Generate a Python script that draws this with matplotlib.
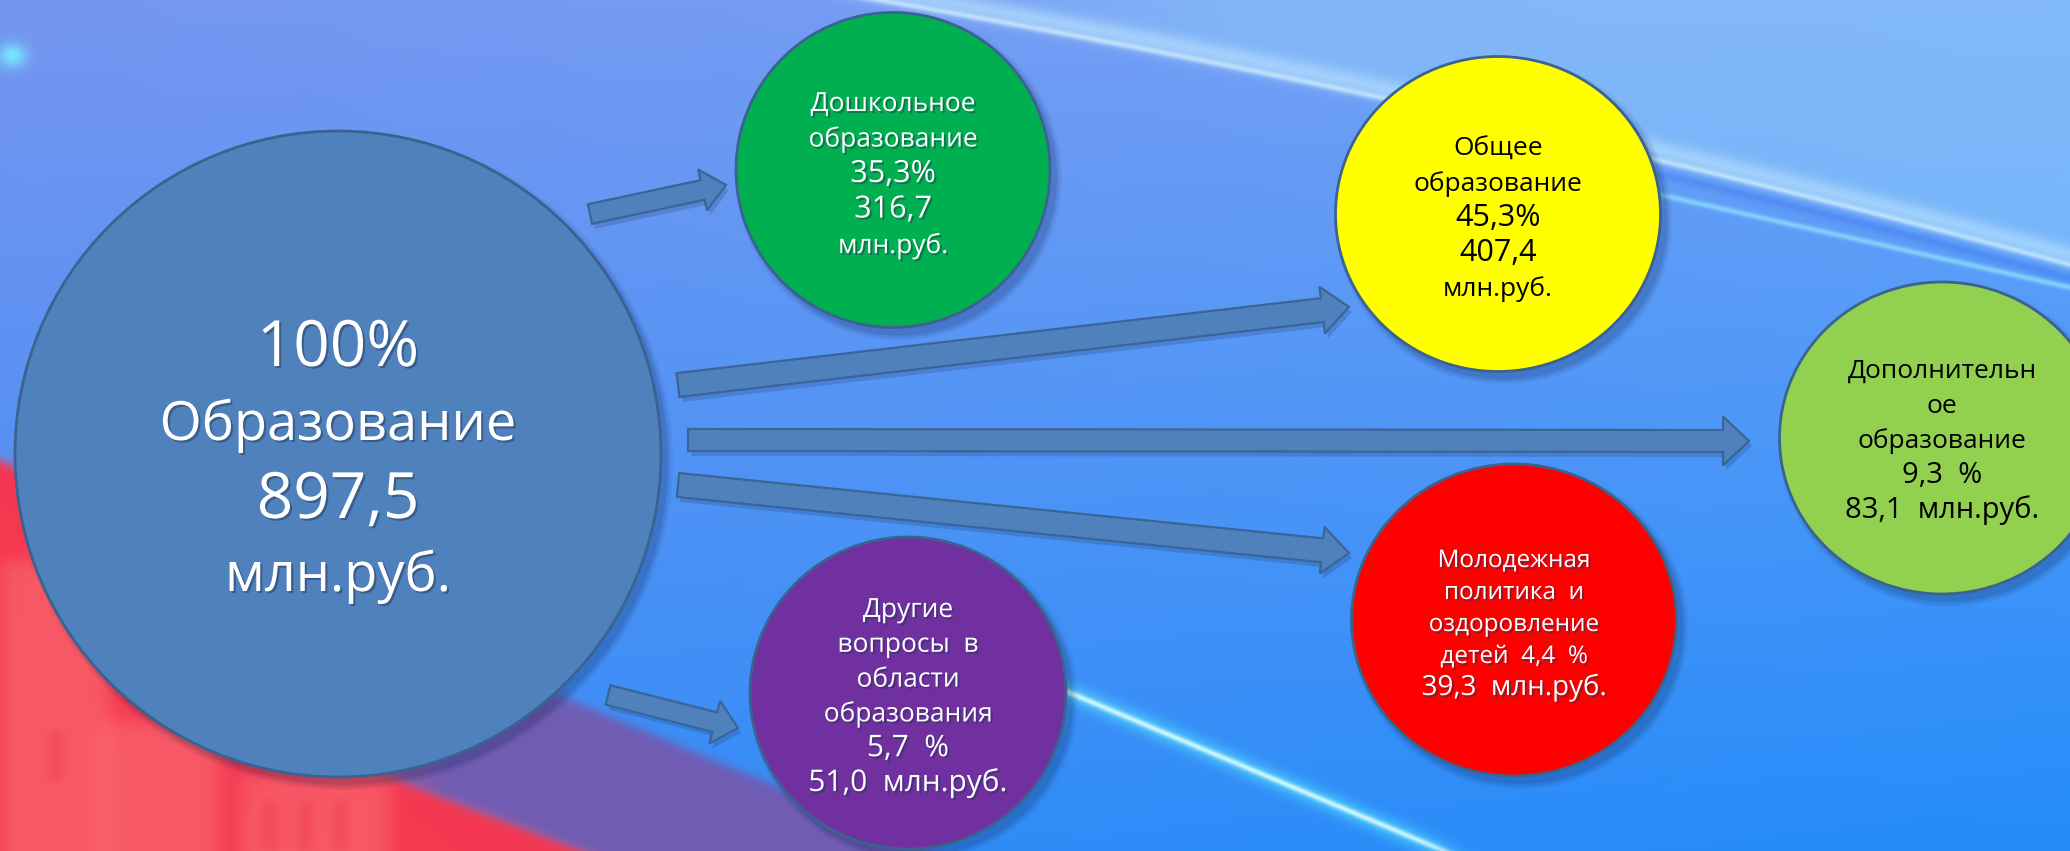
import numpy as np
import matplotlib
matplotlib.use("Agg")
import matplotlib.pyplot as plt
from matplotlib.patches import Ellipse, FancyArrow
import matplotlib.patheffects as pe

# ── Data ──────────────────────────────────────────────────────────────────────
TOTAL_PCT = 100
TOTAL_LABEL = "Образование"
TOTAL_AMOUNT = 897.5
UNIT = "млн.руб."

SECTORS = [
    "Дошкольное\nобразование",
    "Общее\nобразование",
    "Дополнительн\nое\nобразование",
    "Молодежная\nполитика  и\nоздоровление\nдетей",
    "Другие\nвопросы  в\nобласти\nобразования",
]
PERCENTS = [35.3, 45.3, 9.3, 4.4, 5.7]
AMOUNTS = [316.7, 407.4, 83.1, 39.3, 51.0]

# ── Layout / style (pixel coords, y down) ─────────────────────────────────────
W, H = 2070, 851
TEMPLATES = [
    "{label}\n{pct}%\n{amt}\n{unit}",
    "{label}\n{pct}%\n{amt}\n{unit}",
    "{label}\n{pct}  %\n{amt}  {unit}",
    "{label}  {pct}  %\n{amt}  {unit}",
    "{label}\n{pct}  %\n{amt}  {unit}",
]
CIRCLES = [(893, 170, 314, 315), (1498, 214, 325, 315), (1942, 438, 325, 312),
           (1514, 620, 325, 312), (908, 693, 316, 312)]
FILLS = ["#00B050", "#FFFF00", "#92D050", "#FF0000", "#7030A0"]
TEXT_COLORS = ["white", "black", "black", "white", "white"]
BASE0 = [111, 156, 378, 567, 617]     # first baseline
STEP = [35.5, 35, 35, 32, 34.8]
SMALL_FS = [19, 19, 19, 17.5, 19]
NUM_FS = [22, 22, 21, 20, 21.5]

BIG = (338, 454, 646, 646)
ARROWS = [  # tail x, tail y, tip x, tip y, shaft, head width, head length
    (590, 214, 726, 185, 20, 42, 24),
    (678, 385, 1349, 307, 24, 47, 27),
    (688, 440, 1749, 441, 22, 49, 26),
    (678, 485, 1349, 553, 24, 47, 27),
    (608, 695, 738, 728, 20, 44, 24),
]
FONT = ["Open Sans", "DejaVu Sans"]


def fmt(v):
    return f"{v:.1f}".replace(".", ",")


# ── Background ────────────────────────────────────────────────────────────────
def background():
    yy, xx = np.mgrid[0:H, 0:W].astype(float)
    u, v = xx / W, yy / H
    tl, tr = np.array([118, 150, 240]), np.array([115, 165, 248])
    bl, br = np.array([58, 140, 246]), np.array([35, 140, 250])
    img = ((1 - u)[..., None] * (1 - v)[..., None] * tl + u[..., None] * (1 - v)[..., None] * tr
           + (1 - u)[..., None] * v[..., None] * bl + u[..., None] * v[..., None] * br) / 255.0

    def blend(mask, col):
        col = np.array(col) / 255.0
        img[:] = img * (1 - mask[..., None]) + col * mask[..., None]

    def sig(z):
        return 1 / (1 + np.exp(-z))

    # curved light streak in the upper right
    d = xx - 1000
    yc = 12 + 0.1838 * d + 4.045e-5 * d * d
    s = (yy - yc) * 0.97
    blend(0.45 * sig(-s / 6) * sig((xx - 1050) / 80), (150, 210, 252))
    blend(0.55 * np.exp(-(s / 11) ** 2), (200, 240, 255))
    blend(0.6 * np.exp(-((s - 9) / 3) ** 2), (225, 250, 255))
    blend(0.25 * np.exp(-((s - 22) / 5) ** 2) * sig((xx - 1600) / 30), (40, 90, 230))
    # thin line under it
    s2 = yy - (193 + 0.226 * (xx - 1654))
    blend(0.65 * np.exp(-(s2 / 3) ** 2) * sig((xx - 1600) / 20), (150, 235, 255))

    # red / purple corner with a pale building
    top = 460 + 0.42 * xx
    low = 628 + 0.38 * xx
    in_top = sig((yy - top) / 3)
    in_low = sig((yy - low) / 3)
    pur_w = np.clip((xx - 250) / 200, 0, 1)
    blend(in_top * (1 - in_low) * pur_w * 0.85, (122, 84, 168))
    blend(in_top * (1 - (1 - in_low) * pur_w), (245, 55, 80))
    # pale facade blocks
    for x0, x1, y0 in ((0, 110, 560), (100, 220, 720), (240, 390, 775)):
        m = sig((xx - x0) / 6) * sig((x1 - xx) / 6) * sig((yy - y0) / 6) * in_top
        blend(0.4 * m, (252, 140, 135))
    for wx, wy in ((55, 730), (270, 800), (305, 800), (340, 800)):
        m = sig((xx - wx + 7) / 3) * sig((wx + 7 - xx) / 3) * sig((yy - wy) / 3) * sig((wy + 50 - yy) / 3)
        blend(0.35 * m, (235, 45, 65))

    # cyan streak at the bottom
    k = (851 - 680) / (1445 - 1040)
    sb = (yy - (680 + k * (xx - 1040))) / np.sqrt(1 + k * k)
    edge = sig((xx - 1020) / 15) * sig((1460 - xx) / 15)
    blend(0.5 * np.exp(-(sb / 10) ** 2) * edge, (90, 240, 255))
    blend(0.85 * np.exp(-(sb / 3) ** 2) * edge, (225, 255, 255))

    # glow at top left
    g = np.exp(-(((xx - 12) / 14) ** 2 + ((yy - 55) / 12) ** 2))
    blend(0.8 * g, (120, 250, 255))
    return np.clip(img, 0, 1)


fig = plt.figure(figsize=(W / 100, H / 100), dpi=100)
ax = fig.add_axes([0, 0, 1, 1])
ax.set_xlim(0, W)
ax.set_ylim(H, 0)
ax.axis("off")
ax.imshow(background(), extent=(0, W, H, 0), aspect="auto", zorder=0, interpolation="bilinear")


def shadowed_ellipse(cx, cy, w, h, fill, edge):
    for grow, a in ((12, 0.06), (7, 0.09), (2, 0.12)):
        ax.add_patch(Ellipse((cx + 6, cy + 7), w + grow, h + grow, color="#0E1E4A",
                             alpha=a, lw=0, zorder=2))
    ax.add_patch(Ellipse((cx, cy), w, h, facecolor=fill, edgecolor=edge, lw=2, zorder=3))


shadow_txt = [pe.SimplePatchShadow(offset=(1.5, -1.5), shadow_rgbFace="#203050", alpha=0.45), pe.Normal()]

# ── Arrows ────────────────────────────────────────────────────────────────────
for x0, y0, x1, y1, sw, hw, hl in ARROWS:
    ax.add_patch(FancyArrow(x0 + 3, y0 + 5, x1 - x0, y1 - y0, width=sw, head_width=hw,
                            head_length=hl, length_includes_head=True, color="#1A3060",
                            alpha=0.2, lw=0, zorder=2))
    ax.add_patch(FancyArrow(x0, y0, x1 - x0, y1 - y0, width=sw, head_width=hw,
                            head_length=hl, length_includes_head=True, facecolor="#4F81BD",
                            edgecolor="#3B6596", lw=1.6, zorder=4))

# ── Big circle ────────────────────────────────────────────────────────────────
cx, cy, w, h = BIG
shadowed_ellipse(cx, cy, w, h, "#4F81BD", "#3A6390")
big_lines = [(f"{TOTAL_PCT}%", 46, 366), (TOTAL_LABEL, 39, 440),
             (fmt(TOTAL_AMOUNT), 46, 518), (UNIT, 39, 591)]
for txt, fs, yb in big_lines:
    ax.text(cx, yb, txt, ha="center", va="baseline", fontsize=fs, color="white",
            family=FONT, zorder=6, path_effects=shadow_txt)

# ── Sector circles ────────────────────────────────────────────────────────────
for i, (label, pct, amt) in enumerate(zip(SECTORS, PERCENTS, AMOUNTS)):
    cx, cy, w, h = CIRCLES[i]
    shadowed_ellipse(cx, cy, w, h, FILLS[i], "#3A6390")
    lines = TEMPLATES[i].format(label=label, pct=fmt(pct), amt=fmt(amt), unit=UNIT).split("\n")
    for j, line in enumerate(lines):
        fs = NUM_FS[i] if line[0].isdigit() else SMALL_FS[i]
        pe_ = shadow_txt if TEXT_COLORS[i] == "white" else None
        ax.text(cx, BASE0[i] + j * STEP[i], line, ha="center", va="baseline", fontsize=fs,
                color=TEXT_COLORS[i], family=FONT, zorder=6, path_effects=pe_)

fig.savefig("out.png", dpi=100)
